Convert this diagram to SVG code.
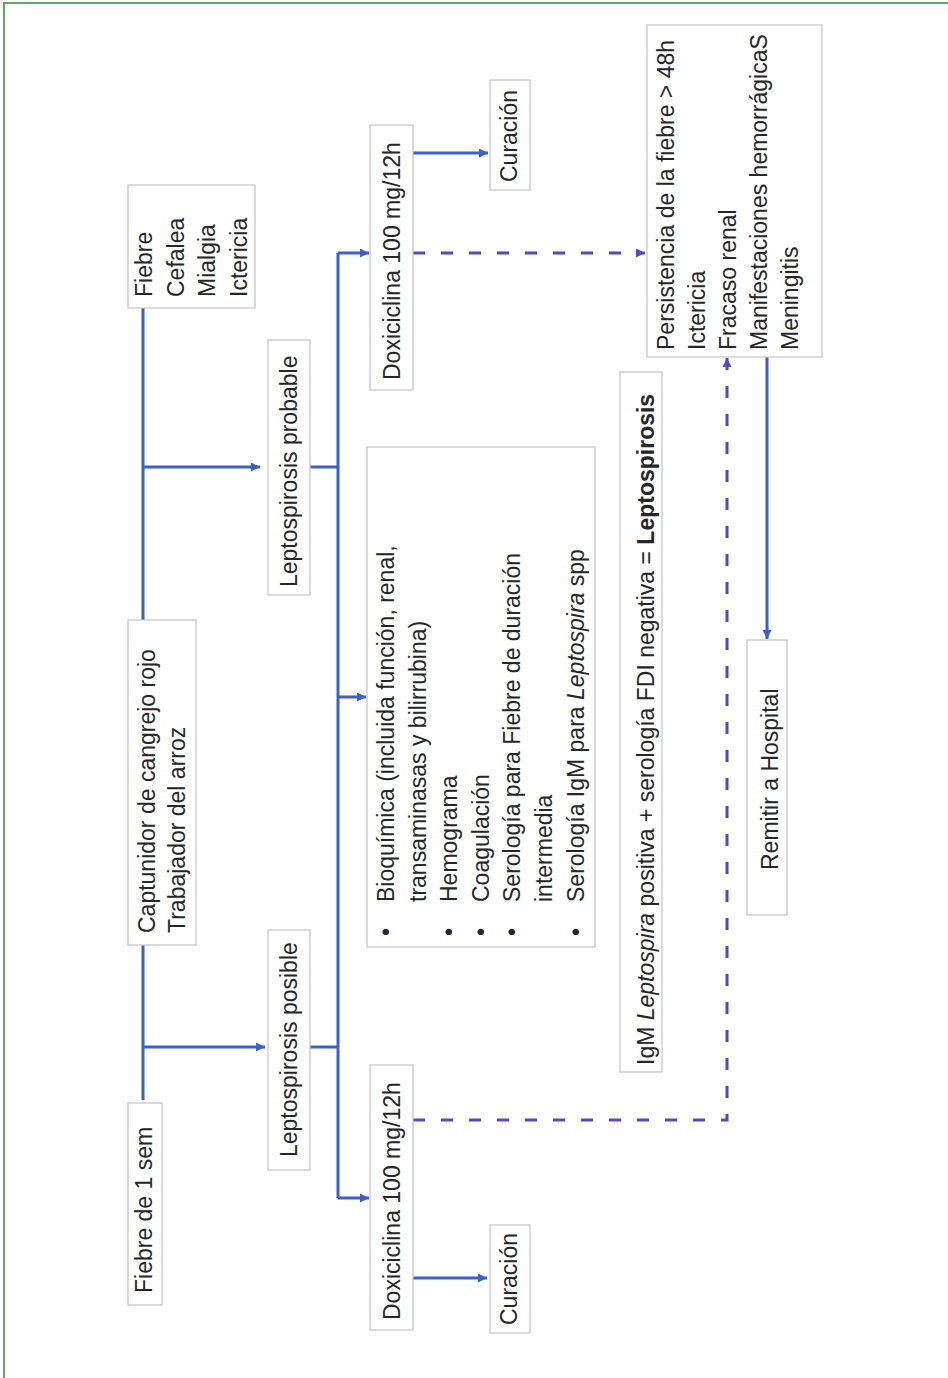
<svg xmlns="http://www.w3.org/2000/svg" width="948" height="1378" viewBox="0 0 948 1378">
<defs>
<style>
.t{font-family:"Liberation Sans",Arial,sans-serif;font-size:23px;fill:#262626}
.box{fill:#ffffff;stroke:#c4c4c4;stroke-width:1.2}
.ln{fill:none;stroke:#3c5fc8;stroke-width:3}
.dl{fill:none;stroke:#5548c0;stroke-width:3;stroke-dasharray:12 16}
</style>
<marker id="ah" viewBox="0 0 10 10" refX="10" refY="5" markerWidth="10" markerHeight="9" markerUnits="userSpaceOnUse" orient="auto">
<path d="M0,0 L10,5 L0,10 z" fill="#3c5fc8"/>
</marker>
<marker id="ahd" viewBox="0 0 10 10" refX="10" refY="5" markerWidth="10" markerHeight="9" markerUnits="userSpaceOnUse" orient="auto">
<path d="M0,0 L10,5 L0,10 z" fill="#5548c0"/>
</marker>
</defs>
<rect x="0" y="0" width="948" height="1378" fill="#ffffff"/>
<rect x="4" y="3" width="960" height="1400" fill="none" stroke="#5aab5a" stroke-width="2"/>

<g id="connectors">
<path class="ln" d="M143,1100 V307"/>
<path class="ln" d="M143,1047 H265" marker-end="url(#ah)"/>
<path class="ln" d="M310,1047 H338"/>
<path class="ln" d="M143,467 H260" marker-end="url(#ah)"/>
<path class="ln" d="M310,467 H338"/>
<path class="ln" d="M338,1198 V253"/>
<path class="ln" d="M338,1198 H369" marker-end="url(#ah)"/>
<path class="ln" d="M338,697 H366" marker-end="url(#ah)"/>
<path class="ln" d="M338,253 H369" marker-end="url(#ah)"/>
<path class="ln" d="M413,1278 H487" marker-end="url(#ah)"/>
<path class="ln" d="M413,153 H488" marker-end="url(#ah)"/>
<path class="dl" d="M413,253 H645" marker-end="url(#ahd)"/>
<path class="dl" d="M413,1120 H727 V358" marker-end="url(#ahd)"/>
<path class="ln" d="M767,357 V639" marker-end="url(#ah)"/>
</g>

<g id="n-fiebre1sem">
<rect class="box" x="128" y="1103" width="34" height="202"/>
<text class="t" transform="translate(152,1293) rotate(-90)">Fiebre de 1 sem</text>
</g>

<g id="n-captunidor">
<rect class="box" x="128" y="620" width="68" height="325"/>
<text class="t" transform="translate(155,933) rotate(-90)">Captunidor de cangrejo rojo</text>
<text class="t" transform="translate(185,933) rotate(-90)">Trabajador del arroz</text>
</g>

<g id="n-sintomas">
<rect class="box" x="128" y="185" width="127" height="123"/>
<text class="t" transform="translate(152,297) rotate(-90)">Fiebre</text>
<text class="t" transform="translate(184,297) rotate(-90)">Cefalea</text>
<text class="t" transform="translate(215,297) rotate(-90)">Mialgia</text>
<text class="t" transform="translate(247,297) rotate(-90)">Ictericia</text>
</g>

<g id="n-posible">
<rect class="box" x="268" y="930" width="42" height="240"/>
<text class="t" transform="translate(297,1157) rotate(-90)">Leptospirosis posible</text>
</g>

<g id="n-probable">
<rect class="box" x="268" y="340" width="42" height="255"/>
<text class="t" transform="translate(297,587) rotate(-90)">Leptospirosis probable</text>
</g>

<g id="n-doxi-low">
<rect class="box" x="370" y="1065" width="43" height="265"/>
<text class="t" transform="translate(400,1320) rotate(-90)">Doxiciclina 100 mg/12h</text>
</g>

<g id="n-doxi-up">
<rect class="box" x="370" y="125" width="43" height="265"/>
<text class="t" transform="translate(400,380) rotate(-90)">Doxiciclina 100 mg/12h</text>
</g>

<g id="n-cura-low">
<rect class="box" x="490" y="1225" width="40" height="108"/>
<text class="t" transform="translate(517,1325) rotate(-90)">Curación</text>
</g>

<g id="n-cura-up">
<rect class="box" x="490" y="80" width="40" height="110"/>
<text class="t" transform="translate(517,182) rotate(-90)">Curación</text>
</g>

<g id="n-pruebas">
<rect class="box" x="367" y="447" width="228" height="500"/>
<text class="t" transform="translate(394,936) rotate(-90)">•</text>
<text class="t" transform="translate(394,902) rotate(-90)">Bioquímica (incluida función, renal,</text>
<text class="t" transform="translate(426,902) rotate(-90)">transaminasas y bilirrubina)</text>
<text class="t" transform="translate(457,936) rotate(-90)">•</text>
<text class="t" transform="translate(457,902) rotate(-90)">Hemograma</text>
<text class="t" transform="translate(489,936) rotate(-90)">•</text>
<text class="t" transform="translate(489,902) rotate(-90)">Coagulación</text>
<text class="t" transform="translate(520,936) rotate(-90)">•</text>
<text class="t" transform="translate(520,902) rotate(-90)">Serología para Fiebre de duración</text>
<text class="t" transform="translate(552,902) rotate(-90)">intermedia</text>
<text class="t" transform="translate(584,936) rotate(-90)">•</text>
<text class="t" transform="translate(584,902) rotate(-90)">Serología IgM para <tspan font-style="italic">Leptospira</tspan> spp</text>
</g>

<g id="n-igm">
<rect class="box" x="620" y="372" width="42" height="700"/>
<text class="t" transform="translate(654,1065) rotate(-90)">IgM <tspan font-style="italic">Leptospira</tspan> positiva + serología FDI negativa = <tspan font-weight="bold">Leptospirosis</tspan></text>
</g>

<g id="n-complicaciones">
<rect class="box" x="647" y="25" width="175" height="332"/>
<text class="t" transform="translate(674,350) rotate(-90)">Persistencia de la fiebre &gt; 48h</text>
<text class="t" transform="translate(705,350) rotate(-90)">Ictericia</text>
<text class="t" transform="translate(736,350) rotate(-90)">Fracaso renal</text>
<text class="t" transform="translate(767,350) rotate(-90)">Manifestaciones hemorrágicaS</text>
<text class="t" transform="translate(798,350) rotate(-90)">Meningitis</text>
</g>

<g id="n-remitir">
<rect class="box" x="747" y="640" width="40" height="275"/>
<text class="t" transform="translate(778,870) rotate(-90)">Remitir a Hospital</text>
</g>
</svg>
